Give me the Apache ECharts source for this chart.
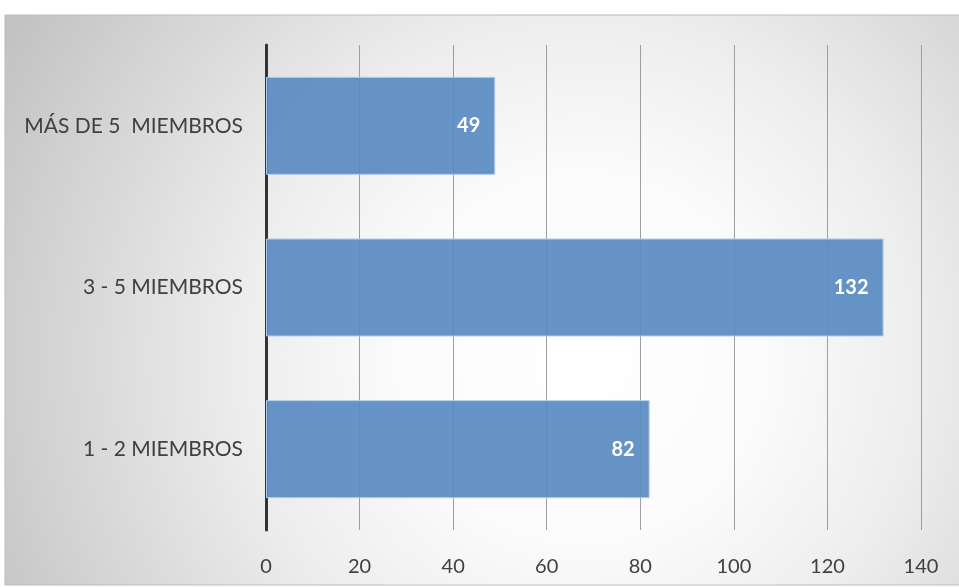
<!DOCTYPE html>
<html>
<head>
<meta charset="utf-8">
<script src="https://cdn.jsdelivr.net/npm/echarts@6/dist/echarts.min.js"></script>
<style>
  html, body { margin: 0; padding: 0; background: #ffffff; }
  #chart { width: 959px; height: 587px; }
</style>
</head>
<body>
<div id="chart"></div>
<script>
// Household size groups (bottom to top) and number of households
const categories = ['1 - 2 MIEMBROS', '3 - 5 MIEMBROS', 'MÁS DE 5  MIEMBROS'];
const values = [82, 132, 49];
const axisMin = 0;
const axisMax = 140;
const axisStep = 20;

const chart = echarts.init(document.getElementById('chart'), null, { renderer: 'canvas' });

const font = 'Lato, "Open Sans", sans-serif';

chart.setOption({
  animation: false,
  graphic: [{
    type: 'rect',
    z: -10,
    silent: true,
    shape: { x: 5, y: 15, width: 960, height: 570 },
    style: {
      fill: {
        type: 'radial', x: 0.6, y: 0.6, r: 1.15,
        colorStops: [
          { offset: 0, color: '#ffffff' },
          { offset: 0.28, color: '#fbfbfb' },
          { offset: 0.52, color: '#ededed' },
          { offset: 0.85, color: '#d0d0d0' },
          { offset: 1, color: '#c2c2c2' }
        ]
      },
      stroke: '#bdbdbd',
      lineWidth: 1
    }
  }],
  grid: { left: 266, right: 38, top: 45, bottom: 57, containLabel: false },
  xAxis: {
    type: 'value',
    min: axisMin,
    max: axisMax,
    interval: axisStep,
    axisLine: { show: false },
    axisTick: { show: false },
    axisLabel: { color: '#404040', fontSize: 20, fontFamily: font, margin: 27 },
    splitLine: { show: true, lineStyle: { color: '#9e9e9e', width: 1 } }
  },
  yAxis: {
    type: 'category',
    data: categories,
    axisLine: { show: true, lineStyle: { color: '#333333', width: 3 } },
    axisTick: { show: false },
    axisLabel: { color: '#404040', fontSize: 21, fontFamily: font, margin: 23 }
  },
  series: [{
    type: 'bar',
    data: values,
    barWidth: 98,
    z: 1,
    itemStyle: { color: 'rgba(90,139,194,0.92)', borderColor: '#b4cce8', borderWidth: 1 },
    label: {
      show: true,
      position: 'insideRight',
      distance: 15,
      color: '#ffffff',
      fontWeight: 'bold',
      fontSize: 20,
      fontFamily: font
    }
  }]
});
</script>
</body>
</html>
